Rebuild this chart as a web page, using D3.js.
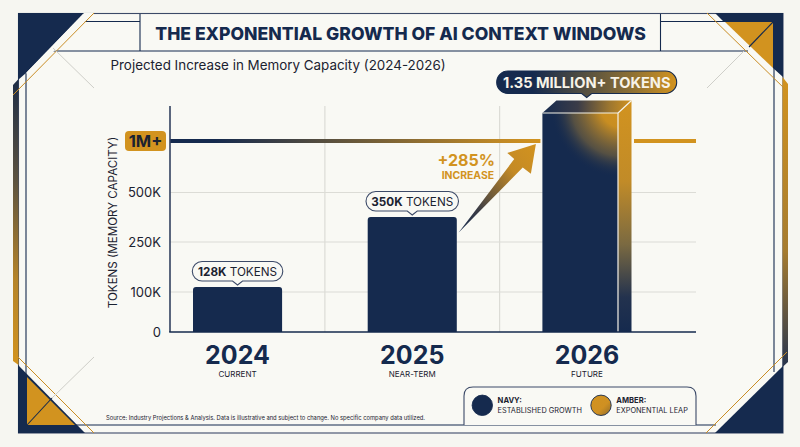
<!DOCTYPE html>
<html><head><meta charset="utf-8">
<script src="https://cdn.jsdelivr.net/npm/d3@7/dist/d3.min.js"></script>
<style>html,body{margin:0;padding:0;background:#f6f6f1}svg{display:block}text{font-family:Inter,"Noto Sans",sans-serif}</style>
</head><body><svg id="c" width="800" height="447"></svg>
<script>
const years=["2024","2025","2026"];
const phases=["CURRENT","NEAR-TERM","FUTURE"];
const tokens=[128,350,1350];
const boldLabels=["128K","350K"];
const tickValues=[0,100,250,500];
const tickLabels=["0","100K","250K","500K"];
const thresholdValue=1000, thresholdLabel="1M+";
const scaleKnots=[0,100,128,250,350,500,1000,1350];
const legendHeads=["NAVY:","AMBER:"];
const legendTexts=["ESTABLISHED GROWTH","EXPONENTIAL LEAP"];
const navy="#152a4e",amber="#d2931f",grid="#dcdcd6",ink="#1b2230",paper="#f9f9f4";

const svg=d3.select("#c");
const defs=svg.append("defs");
function lg(id,x1,y1,x2,y2,stops){const g=defs.append("linearGradient").attr("id",id).attr("x1",x1).attr("y1",y1).attr("x2",x2).attr("y2",y2);
 stops.forEach(s=>g.append("stop").attr("offset",s[0]).attr("stop-color",s[1]));}
lg("gLine",0,0,1,0,[[0,navy],[.12,navy],[.9,"#c28a25"],[1,amber]]);
lg("gBandL",0,0,0,1,[[0,"#1d2c46"],[.35,"#5b5240"],[.7,"#b5842a"],[1,amber]]);
lg("gBandR",0,0,0,1,[[0,amber],[.6,"#a67c30"],[1,"#27344e"]]);
lg("gPill",0,0,1,0,[[0,navy],[.2,navy],[.75,"#8d7034"],[1,amber]]);
lg("gArrow",0,1,1,0,[[0,navy],[.25,"#3a3c46"],[.7,"#c48a25"],[1,amber]]);
lg("gSide",0,0,0,1,[[0,amber],[.35,"#c18b28"],[.62,"#7b6a41"],[.85,"#23324e"],[1,navy]]);
lg("gTop",0,0,1,0,[[0,navy],[.4,"#3b3c48"],[.75,"#9c7630"],[1,amber]]);
lg("gCoin",0,0,1,1,[[0,amber],[.6,"#cf9022"],[1,"#8c6a2b"]]);
const rg=defs.append("radialGradient").attr("id","gGlow").attr("gradientUnits","userSpaceOnUse").attr("cx",622).attr("cy",106).attr("r",72);
[[0,amber,1],[.3,"#d2931f",.95],[.7,"#8a6f3a",.55],[1,navy,0]].forEach(s=>rg.append("stop").attr("offset",s[0]).attr("stop-color",s[1]).attr("stop-opacity",s[2]));

// ---- frame ----
const f=svg.append("g").attr("class","frame");
const poly=(pts,fill)=>f.append("polygon").attr("points",pts.join(" ")).attr("fill",fill);
const seg=(a,b,c,w,d)=>f.append("line").attr("x1",a).attr("y1",b).attr("x2",c).attr("y2",d===undefined?b:d).attr("stroke",w.c).attr("stroke-width",w.w);
const F={c:navy,w:1.1},Fl={c:"#3c4a68",w:1.1},A={c:"#c98d25",w:1},G={c:"#cfcfc9",w:1};
f.append("rect").attr("x",18.5).attr("y",13.5).attr("width",764.5).attr("height",419.5).attr("fill",paper).attr("stroke",Fl.c).attr("stroke-width",1.1);
// side bands
poly(["13,85","18.5,79","18.5,365","13,361"],"url(#gBandL)");
poly(["782.5,77","788,84","788,362","782.5,367"],"url(#gBandR)");
// inner rules
seg(26,72,26,F).attr("y2",378);
seg(774,68,774,F).attr("y2",372);
seg(78,21.5,140,F);seg(661,21.5,727,F);
seg(53,51,748,F);
seg(27,425,716,F);
seg(140,14,140,F).attr("y2",51);seg(660.5,14,660.5,F).attr("y2",51);
// corners
poly(["18,13","84,13","26,73","18,80"],navy);
f.append("polygon").attr("points","84,13 94,13 29,75 26,73").attr("fill",paper);
poly(["715,13","783,13","783,77","773,68","773,22","724,22"],navy);
poly(["725,22","773,22","773,68"],amber);
poly(["18,365","85,433","18,433"],navy);
poly(["27,377","27,425","75,425"],amber);
poly(["783,366","783,433","715,433"],navy);
seg(94,13,13,A,95);seg(707,13,786,A,90);seg(18,357,94,A,433);seg(706,433,787,A,352);
seg(53,48,94,G,88);seg(744,51,707,G,88);seg(52,398,94,G,357);
seg(773,22,749,F,47);seg(27,425,52,F,398);

// ---- scales ----
const y=d3.scaleLinear().domain(scaleKnots).range([332,292,287,242,217,192.5,141,113]);
const x=d3.scaleBand().domain(years).range([193,631.5]).paddingInner(.49);
const bw=x.bandwidth(), cx=d=>x(d)+bw/2;
const plot=svg.append("g");
const left=170,right=696,top0=106;

// ---- grid ----
plot.selectAll("line.h").data(tickValues.slice(1)).join("line").attr("class","h")
 .attr("x1",left).attr("x2",right).attr("y1",y).attr("y2",y).attr("stroke",grid).attr("stroke-width",1.2);
plot.selectAll("line.v").data(years.slice(0,2)).join("line").attr("class","v")
 .attr("x1",(d,i)=>(cx(years[i])+cx(years[i+1]))/2).attr("x2",(d,i)=>(cx(years[i])+cx(years[i+1]))/2)
 .attr("y1",top0).attr("y2",y(0)).attr("stroke",grid).attr("stroke-width",1.2);

// threshold line
const barX26=x("2026");
plot.append("rect").attr("x",left).attr("width",barX26-2-left).attr("y",y(thresholdValue)-2).attr("height",4).attr("fill","url(#gLine)");
plot.append("rect").attr("x",barX26+bw+2.5).attr("width",right-(barX26+bw+2.5)).attr("y",y(thresholdValue)-2).attr("height",4).attr("fill",amber);

// ---- axes ----
const yAxis=d3.axisLeft(y).tickValues(tickValues).tickFormat((d,i)=>tickLabels[i]).tickSize(0).tickPadding(9);
const ga=plot.append("g").attr("transform",`translate(${left},0)`).call(yAxis);
ga.select(".domain").remove();
ga.selectAll("text").attr("font-size",13).attr("fill",ink).style("font-family","Inter");
plot.append("line").attr("x1",left).attr("x2",left).attr("y1",top0).attr("y2",y(0)).attr("stroke","#33415f").attr("stroke-width",1.6);

// ---- bars ----
const barPath=(d,i)=>{const a=x(years[i]),b=a+bw,t=y(d),r=3,base=y(0);
 return `M${a},${base}V${t+r}Q${a},${t} ${a+r},${t}H${b-r}Q${b},${t} ${b},${t+r}V${base}Z`;};
plot.selectAll("path.bar").data(tokens.slice(0,2)).join("path").attr("class","bar").attr("d",barPath).attr("fill",navy);

// 3D bar 2026
const depthX=13.5, depthY=12.5;
const fx0=barX26, fx1=barX26+bw-depthX, ft=y(tokens[2]), fb=y(0);
plot.append("rect").attr("x",fx0).attr("y",ft).attr("width",fx1-fx0).attr("height",fb-ft).attr("fill",navy);
plot.append("rect").attr("x",fx0).attr("y",ft).attr("width",fx1-fx0).attr("height",fb-ft).attr("fill","url(#gGlow)");
plot.append("polygon").attr("points",[[fx0,ft],[fx0+14,ft-depthY],[fx1+depthX,ft-depthY],[fx1,ft]].join(" ")).attr("fill","url(#gTop)");
plot.append("polygon").attr("points",[[fx1,ft],[fx1+depthX,ft-depthY],[fx1+depthX,fb],[fx1,fb]].join(" ")).attr("fill","url(#gSide)");
plot.append("path").attr("d",`M${fx0},${ft}H${fx1}V${fb}M${fx1},${ft}L${fx1+depthX},${ft-depthY}`).attr("fill","none").attr("stroke","#f4f1e6").attr("stroke-width",1.2);

// baseline
plot.append("line").attr("x1",left-.8).attr("x2",right).attr("y1",y(0)).attr("y2",y(0)).attr("stroke",navy).attr("stroke-width",1.6);

// threshold badge
plot.append("rect").attr("x",125).attr("y",y(thresholdValue)-10).attr("width",41).attr("height",20).attr("rx",4).attr("fill",amber);
plot.append("text").attr("x",145.5).attr("y",y(thresholdValue)+6).attr("text-anchor","middle").attr("font-size",16.5).attr("font-weight",700).attr("fill",ink).text(thresholdLabel);

// axis title
svg.append("text").attr("transform",`translate(116.5,${222.5}) rotate(-90)`).attr("text-anchor","middle").attr("font-size",11.6).attr("fill",ink).text("TOKENS (MEMORY CAPACITY)");

// year labels
plot.selectAll("text.yr").data(years).join("text").attr("class","yr").attr("x",cx).attr("y",363.5).attr("text-anchor","middle").attr("font-size",25).attr("font-weight",700).attr("fill",navy).text(d=>d);
plot.selectAll("text.ph").data(phases).join("text").attr("class","ph").attr("x",(d,i)=>cx(years[i])).attr("y",376.5).attr("text-anchor","middle").attr("font-size",8).attr("fill",ink).text(d=>d);

// callouts
function callout(cxv,tipY,w,h,fill,stroke){
 const a=cxv-w/2,b=cxv+w/2,bot=tipY-4,t=bot-h,r=h/2;
 return plot.append("path").attr("d",`M${a+r},${t}H${b-r}A${r},${r} 0 0 1 ${b-r},${bot}H${cxv+5}L${cxv},${tipY}L${cxv-5},${bot}H${a+r}A${r},${r} 0 0 1 ${a+r},${t}Z`).attr("fill",fill).attr("stroke",stroke).attr("stroke-width",1.1);
}
tokens.slice(0,2).forEach((d,i)=>{
 const c=cx(years[i]),tip=y(d)-2;
 callout(c,tip,i?92.5:90.5,19.5,paper,"#3c4a68");
 const t=plot.append("text").attr("x",c).attr("y",tip-9).attr("text-anchor","middle").attr("font-size",11.7).attr("fill",ink);
 t.append("tspan").attr("font-weight",700).text(boldLabels[i]);
 t.append("tspan").text(" TOKENS");
});
callout(586.7,97.5,180,22.5,"url(#gPill)",navy);
plot.append("text").attr("x",586.7).attr("y",87.5).attr("text-anchor","middle").attr("font-size",14.6).attr("font-weight",700).attr("fill","#f7f3e8").text("1.35 MILLION+ TOKENS");

// growth arrow
const ax0=x("2025")+bw+1.7, ay0=y(287), tipX=barX26-6.5, tipY=y(thresholdValue)+3;
const dx=tipX-ax0, dy=ay0-tipY;
const rel=[[0,0],[.72,.83],[.63,.9],[1,1],[.935,.665],[.83,.735]];
plot.append("polygon").attr("points",rel.map(p=>[ax0+p[0]*dx,ay0-p[1]*dy]).join(" ")).attr("fill","url(#gArrow)");
plot.append("text").attr("x",495).attr("y",166).attr("text-anchor","end").attr("font-size",16).attr("font-weight",700).attr("fill",amber).text("+285%");
plot.append("text").attr("x",494).attr("y",178.5).attr("text-anchor","end").attr("font-size",10.4).attr("font-weight",700).attr("fill",amber).text("INCREASE");

// title
svg.append("text").attr("x",400.5).attr("y",40).attr("text-anchor","middle").attr("font-size",17.6).attr("font-weight",800).attr("fill",navy).text("THE EXPONENTIAL GROWTH OF AI CONTEXT WINDOWS");
svg.append("text").attr("x",110.5).attr("y",70).attr("font-size",13.4).attr("fill",ink).text("Projected Increase in Memory Capacity (2024-2026)");

// legend
svg.append("path").attr("d","M464,425V396Q464,387 473,387H687Q696,387 696,396V425").attr("fill",paper).attr("stroke","#3c4a68").attr("stroke-width",1.1);
const lx=[482.3,601];
const lg2=svg.append("g");
lg2.selectAll("circle").data(legendHeads).join("circle").attr("cx",(d,i)=>lx[i]).attr("cy",405.3).attr("r",10.2).attr("fill",(d,i)=>i?"url(#gCoin)":navy).attr("stroke",navy).attr("stroke-width",.9);
lg2.selectAll("text.a").data(legendHeads).join("text").attr("class","a").attr("x",(d,i)=>lx[i]+15.3).attr("y",403).attr("font-size",7.6).attr("font-weight",700).attr("fill",ink).text(d=>d);
lg2.selectAll("text.b").data(legendTexts).join("text").attr("class","b").attr("x",(d,i)=>lx[i]+15.3).attr("y",413).attr("font-size",7.35).attr("fill",ink).text(d=>d);

// source
svg.append("text").attr("x",106).attr("y",420).attr("font-size",5.8).attr("fill",ink).text("Source: Industry Projections & Analysis. Data is illustrative and subject to change. No specific company data utilized.");
</script></body></html>
